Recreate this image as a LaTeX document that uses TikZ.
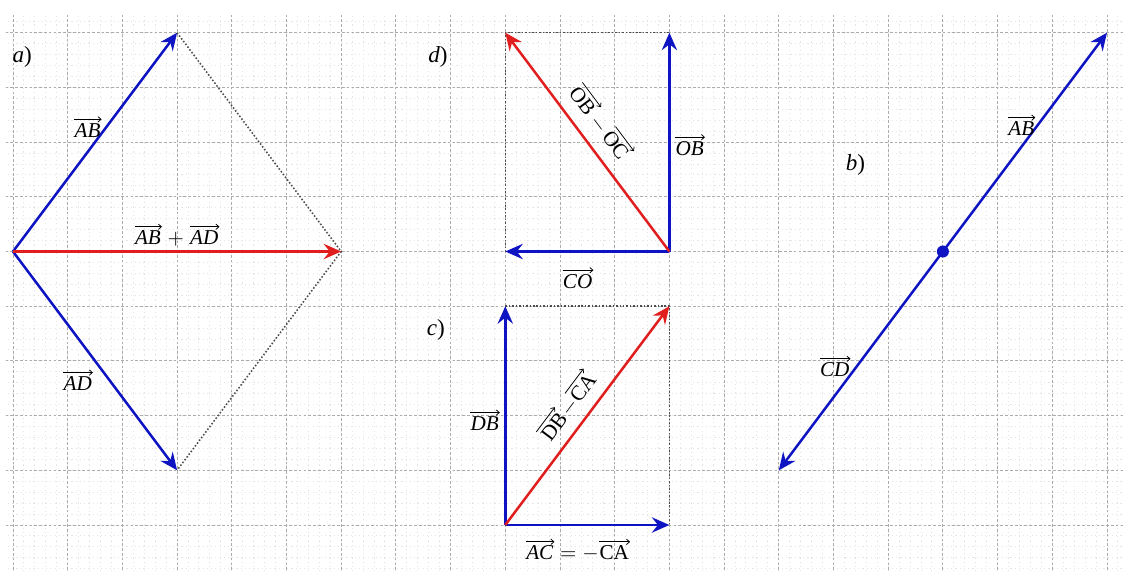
\documentclass[tikz,border=0pt]{standalone}
\usepackage{fontspec}
\setmainfont{Liberation Serif}
\usetikzlibrary{arrows.meta,calc}
\definecolor{vecblue}{RGB}{15,20,195}
\definecolor{vecred}{RGB}{225,30,30}
% arrow over the letters of a vector
\newcommand{\vecarr}[1]{\tikz[baseline=(vt.base)]{\node[inner sep=0pt] (vt) {#1};
  \draw[-{Straight Barb[length=1.6pt, width=2.8pt]}, line width=0.4pt]
    ([yshift=1.9pt]vt.north west) -- ([yshift=1.9pt, xshift=0.4pt]vt.north east);}}
\newcommand{\vit}[1]{\vecarr{\itshape #1}}
\newcommand{\vup}[1]{\vecarr{#1}}
\tikzset{
  majorgrid/.style={gray!65, line width=0.45pt, dash pattern=on 1.4pt off 1.1pt},
  minorgrid/.style={gray!20, line width=0.5pt, dash pattern=on 0.6pt off 1.6pt},
  vecarrow/.style={-{Stealth[length=3.2mm, width=2.8mm, inset=1.1mm]}, line width=1.3pt},
  bluevec/.style={vecarrow, vecblue},
  redvec/.style={vecarrow, vecred},
  helper/.style={densely dotted, line width=0.8pt, black!70},
  veclabel/.style={font=\fontsize{11}{13}\selectfont, inner sep=1pt},
  partlabel/.style={font=\fontsize{12}{14}\selectfont, inner sep=1pt},
}

\begin{document}
\begin{tikzpicture}
  \useasboundingbox (-0.2377,-0.859) rectangle (20.311,9.598);
  % grid paper
  \begin{scope}
    \clip (-0.15,-0.86) rectangle (20.32,9.36);
    \draw[minorgrid, step=0.2] (-0.4,-1) grid (20.4,9.4);
    \draw[majorgrid, step=1] (-0.4,-1) grid (20.4,9.4);
  \end{scope}

  % a) suma de vectores
  \coordinate (aA) at (0,5);
  \coordinate (aB) at (3,9);
  \coordinate (aD) at (3,1);
  \coordinate (aS) at (6,5);
  \draw[helper] (aB) -- (aS) -- (aD);
  \draw[bluevec] (aA) -- (aB);
  \draw[bluevec] (aA) -- (aD);
  \draw[redvec] (aA) -- (aS);
  \node[partlabel] (la) at (0.17,8.56) {\textit{a})};
  \node[veclabel] (lab) at (1.37,7.28) {\vit{AB}};
  \node[veclabel] (lsum) at (3.0,5.3) {\vit{AB} $+$ \vit{AD}};
  \node[veclabel] (lad) at (1.19,2.65) {\vit{AD}};

  % d) diferencia OB - OC
  \coordinate (dO) at (12,5);
  \coordinate (dB) at (12,9);
  \coordinate (dC) at (9,5);
  \coordinate (dR) at (9,9);
  \draw[helper] (dC) -- (dR) -- (dB);
  \draw[bluevec] (dO) -- (dB);
  \draw[bluevec] (dO) -- (dC);
  \draw[redvec] (dO) -- (dR);
  \node[partlabel] (ld) at (7.77,8.56) {\textit{d})};
  \node[veclabel, rotate=-53.13] (ldiff) at (10.76,7.37) {\vup{OB}$\,-\,$\vup{OC}};
  \node[veclabel] (lob) at (12.38,6.95) {\vit{OB}};
  \node[veclabel] (lco) at (10.33,4.52) {\vit{CO}};

  % c) diferencia DB - CA
  \coordinate (cA) at (9,0);
  \coordinate (cB) at (9,4);
  \coordinate (cC) at (12,0);
  \coordinate (cR) at (12,4);
  \draw[helper] (cB) -- (cR) -- (cC);
  \draw[bluevec] (cA) -- (cB);
  \draw[bluevec] (cA) -- (cC);
  \draw[redvec] (cA) -- (cR);
  \node[partlabel] (lc) at (7.73,3.56) {\textit{c})};
  \node[veclabel] (ldb) at (8.63,1.92) {\vit{DB}};
  \node[veclabel, rotate=53.13] (lcdiff) at (10.12,2.19) {\vup{DB}$-$\vup{CA}};
  \node[veclabel] (lac) at (10.33,-0.46) {\vit{AC} $=-$\vup{CA}};

  % b) vectores opuestos
  \coordinate (bP) at (17,5);
  \coordinate (bB) at (20,9);
  \coordinate (bD) at (14,1);
  \draw[bluevec] (bP) -- (bB);
  \draw[bluevec] (bP) -- (bD);
  \fill[vecblue] (bP) circle (0.11);
  \node[partlabel] (lb) at (15.4,6.58) {\textit{b})};
  \node[veclabel] (lbab) at (18.44,7.31) {\vit{AB}};
  \node[veclabel] (lcd) at (15.03,2.9) {\vit{CD}};
\end{tikzpicture}
\end{document}
